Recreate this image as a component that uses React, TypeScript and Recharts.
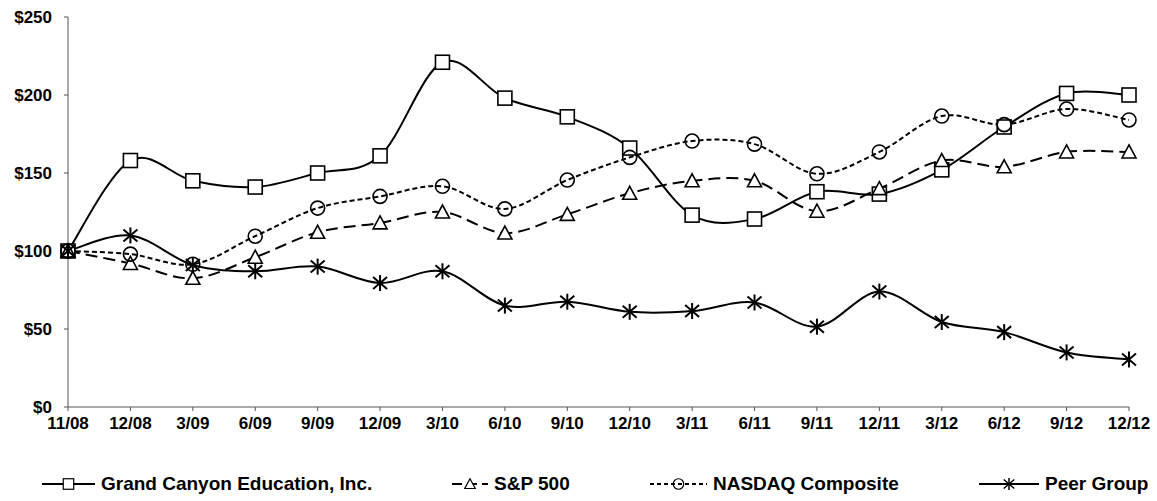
import { LineChart, Line, XAxis, YAxis, Legend } from 'recharts';

const periods = ['11/08', '12/08', '3/09', '6/09', '9/09', '12/09', '3/10', '6/10', '9/10', '12/10', '3/11', '6/11', '9/11', '12/11', '3/12', '6/12', '9/12', '12/12'];
const grandCanyon = [100, 158, 145, 141, 150, 161, 221, 198, 186, 166, 123, 120.5, 138, 136.5, 152, 179.5, 201, 200];
const sp500 = [100, 92, 82.5, 96, 112, 118, 125, 111.5, 123.5, 137, 145, 145, 125.5, 140, 158, 154, 163.5, 163.5];
const nasdaq = [100, 98, 91.5, 109.5, 127.5, 135, 141.5, 127, 145.5, 160, 170.5, 168.5, 149.5, 163.5, 186.5, 181, 191, 184];
const peerGroup = [100, 110, 91, 87, 90, 79.5, 87, 65, 67.5, 61, 61.5, 67, 51.5, 74, 54.5, 48, 35, 30.5];
const yTicks = [0, 50, 100, 150, 200, 250];

const data = periods.map((p, i) => ({
  period: p,
  gce: grandCanyon[i],
  sp: sp500[i],
  nasdaq: nasdaq[i],
  peer: peerGroup[i],
}));

// excel-like smoothing (catmull-rom style bezier)
const smooth = (ctx: any) => {
  let pts: number[][] = [];
  return {
    areaStart() {},
    areaEnd() {},
    lineStart() { pts = []; },
    point(x: number, y: number) { pts.push([+x, +y]); },
    lineEnd() {
      if (!pts.length) return;
      ctx.moveTo(pts[0][0], pts[0][1]);
      for (let i = 0; i < pts.length - 1; i++) {
        const p0 = pts[Math.max(0, i - 1)];
        const p1 = pts[i];
        const p2 = pts[i + 1];
        const p3 = pts[Math.min(pts.length - 1, i + 2)];
        ctx.bezierCurveTo(
          p1[0] + (p2[0] - p0[0]) / 6, p1[1] + (p2[1] - p0[1]) / 6,
          p2[0] - (p3[0] - p1[0]) / 6, p2[1] - (p3[1] - p1[1]) / 6,
          p2[0], p2[1]
        );
      }
    },
  };
};

const SquareMark = ({ cx, cy }: any) => (
  <rect x={cx - 7} y={cy - 7} width={14} height={14} fill="#fff" stroke="#000" strokeWidth={1.6} />
);
const TriMark = ({ cx, cy }: any) => (
  <polygon points={`${cx},${cy - 7} ${cx + 7},${cy + 6} ${cx - 7},${cy + 6}`} fill="#fff" stroke="#000" strokeWidth={1.6} />
);
const CircleMark = ({ cx, cy }: any) => (
  <circle cx={cx} cy={cy} r={7} fill="none" stroke="#000" strokeWidth={1.6} />
);
const StarMark = ({ cx, cy }: any) => (
  <g stroke="#000" strokeWidth={2}>
    <line x1={cx - 7} y1={cy - 6} x2={cx + 7} y2={cy + 6} />
    <line x1={cx - 7} y1={cy + 6} x2={cx + 7} y2={cy - 6} />
    <line x1={cx} y1={cy - 8} x2={cx} y2={cy + 8} />
  </g>
);

const dotFn = (Mark: any) => (props: any) => <Mark key={`m-${props.index}`} cx={props.cx} cy={props.cy} />;

const legendItems = [
  { name: 'Grand Canyon Education, Inc.', x: 42, w: 53, dash: undefined, Mark: SquareMark },
  { name: 'S&P 500', x: 452, w: 36, dash: '10 5', Mark: TriMark },
  { name: 'NASDAQ Composite', x: 650, w: 57, dash: '4 3', Mark: CircleMark },
  { name: 'Peer Group', x: 979, w: 60, dash: undefined, Mark: StarMark },
];

const LegendContent = () => (
  <div style={{ position: 'relative', width: 1157, height: 40 }}>
    {legendItems.map((it) => (
      <div key={it.name} style={{ position: 'absolute', left: it.x, top: 0, height: 40, display: 'flex', alignItems: 'center' }}>
        <svg width={it.w} height={20}>
          <line x1={0} y1={10} x2={it.w} y2={10} stroke="#000" strokeWidth={2} strokeDasharray={it.dash} />
          <g transform={`translate(${it.w / 2},10) scale(0.75)`}>
            <it.Mark cx={0} cy={0} />
          </g>
        </svg>
        <span style={{ marginLeft: 6, fontSize: 19, fontWeight: 'bold', color: '#000', whiteSpace: 'nowrap' }}>{it.name}</span>
      </div>
    ))}
  </div>
);

const tickStyle = { fill: '#000', fontSize: 17, fontWeight: 'bold' };

export default function App() {
  return (
    <div style={{ position: 'absolute', left: 0, top: 0, width: 1157, height: 501, background: '#fff', fontFamily: '"Liberation Sans", Arial, sans-serif' }}>
      <LineChart width={1157} height={501} data={data} margin={{ top: 17, right: 28, left: 0, bottom: 24 }}>
        <XAxis dataKey="period" tick={tickStyle} stroke="#555" tickSize={4} tickMargin={6} interval={0} height={30} />
        <YAxis domain={[0, 250]} ticks={yTicks} tick={tickStyle} stroke="#555" tickSize={4} tickMargin={12} width={68}
          tickFormatter={(v: number) => `$${v}`} />
        <Legend verticalAlign="bottom" wrapperStyle={{ top: 464, left: 0, width: 1157 }} content={() => <LegendContent />} />
        <Line dataKey="gce" type={smooth as any} stroke="#000" strokeWidth={2} dot={dotFn(SquareMark)} isAnimationActive={false} />
        <Line dataKey="sp" type={smooth as any} stroke="#000" strokeWidth={2} strokeDasharray="12 6" dot={dotFn(TriMark)} isAnimationActive={false} />
        <Line dataKey="nasdaq" type={smooth as any} stroke="#000" strokeWidth={2} strokeDasharray="5 3" dot={dotFn(CircleMark)} isAnimationActive={false} />
        <Line dataKey="peer" type={smooth as any} stroke="#000" strokeWidth={2} dot={dotFn(StarMark)} isAnimationActive={false} />
      </LineChart>
    </div>
  );
}
